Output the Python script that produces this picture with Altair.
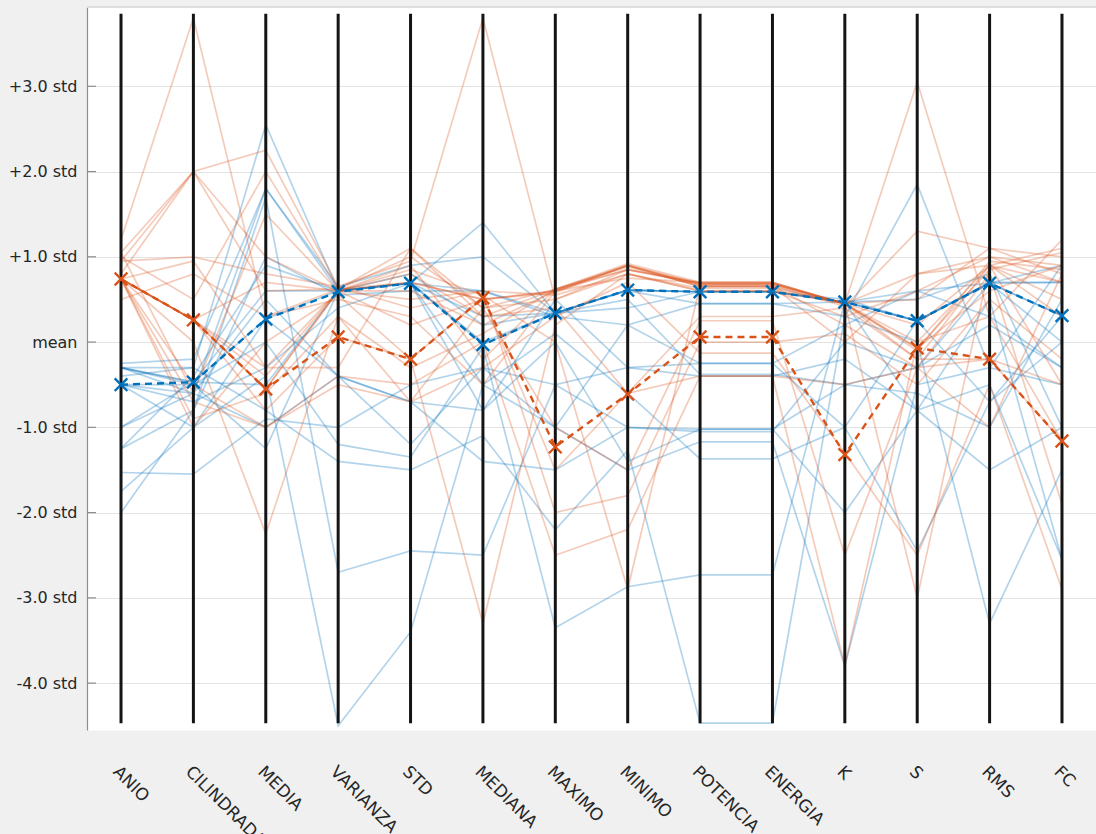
import altair as alt
import pandas as pd

AXES = ["ANIO", "CILINDRADA", "MEDIA", "VARIANZA", "STD", "MEDIANA", "MAXIMO",
        "MINIMO", "POTENCIA", "ENERGIA", "K", "S", "RMS", "FC"]

TICK_VALUES = [-4, -3, -2, -1, 0, 1, 2, 3]
TICK_LABELS = ["-4.0 std", "-3.0 std", "-2.0 std", "-1.0 std", "mean",
               "+1.0 std", "+2.0 std", "+3.0 std"]

Y_DOMAIN = [-4.55, 3.93]
AXIS_LINE_LO = -4.47
AXIS_LINE_HI = 3.85

# group "mean" polylines (dashed with x markers)
MEAN_BLUE = [-0.50, -0.47, 0.27, 0.59, 0.69, -0.03, 0.34, 0.61, 0.59, 0.59, 0.47, 0.25, 0.69, 0.31]
MEAN_ORANGE = [0.74, 0.26, -0.55, 0.06, -0.20, 0.52, -1.23, -0.61, 0.06, 0.06, -1.32, -0.07, -0.20, -1.16]

ORANGE_LINES = [
    [1.20, 3.80, 0.30, 0.62, 1.10, 0.40, 0.62, 0.92, 0.70, 0.70, 0.45, -0.10, 0.95, 0.85],
    [1.05, 2.00, 2.25, 0.65, 0.95, 3.80, 0.50, 0.85, 0.68, 0.68, 0.45, 3.05, 0.30, 1.20],
    [0.95, 2.00, 1.00, 0.60, 0.80, 0.30, 0.62, 0.88, 0.66, 0.66, 0.42, 1.30, 1.10, 1.00],
    [0.80, 2.00, 0.60, 0.62, 0.70, 0.50, 0.58, 0.90, 0.65, 0.65, 0.45, 0.80, 1.00, 0.90],
    [0.74, 0.95, -0.30, 0.60, 0.50, 0.60, 0.55, 0.80, 0.63, 0.63, 0.45, 0.00, 0.90, 0.70],
    [0.74, 0.26, -0.55, 0.60, 0.20, 0.50, 0.60, 0.75, 0.70, 0.70, 0.45, -0.07, 0.85, 1.05],
    [0.74, 0.26, -0.80, 0.06, -0.20, 0.52, -1.50, -0.60, 0.30, 0.30, 0.40, -0.20, -0.20, -0.50],
    [0.74, -0.50, -1.00, -0.40, -0.50, 0.00, -2.50, -2.20, -0.40, -0.40, -0.50, -0.30, 0.80, -1.90],
    [0.74, 0.00, -2.25, 0.30, -0.70, -0.30, 0.30, 0.70, -0.13, -0.13, -1.30, -2.50, -0.50, -2.90],
    [0.74, -1.00, 0.00, 0.55, -0.20, -3.30, 0.20, 0.80, 0.60, 0.60, 0.45, -3.00, 0.90, 0.50],
    [1.05, -0.60, 1.50, 0.60, 0.70, 0.50, 0.60, 0.90, 0.68, 0.68, 0.45, 0.50, 1.10, 0.80],
    [0.74, 0.26, -0.30, -0.30, 1.10, 0.30, 0.40, -0.60, -0.40, -0.40, -3.80, 0.00, 0.30, -1.16],
    [0.50, 0.80, 0.30, 0.50, 0.30, -0.50, 0.60, 0.90, 0.65, 0.65, 0.00, 0.80, 0.90, 1.10],
    [0.74, 0.26, -0.55, 0.60, 0.60, 0.20, 0.60, 0.85, 0.70, 0.70, 0.45, -0.07, 0.60, 0.90],
    [1.00, 0.50, 2.00, 0.62, 1.00, 0.40, 0.50, 0.80, 0.60, 0.60, 0.30, 0.60, 1.00, 0.70],
    [0.74, -0.90, -0.60, 0.30, -0.30, 0.10, 0.62, 0.90, 0.68, 0.68, 0.45, -0.20, 0.90, -0.50],
    [0.74, 0.26, -0.40, 0.60, 0.85, 0.55, 0.00, -2.90, 0.66, 0.66, 0.20, -0.30, -1.00, 0.80],
    [0.74, -0.70, -1.00, -0.50, -0.70, 0.40, -1.00, -1.50, 0.25, 0.25, -2.50, -0.30, -0.20, -1.16],
    [0.74, 0.26, 0.70, 0.60, 0.90, -0.20, 0.62, 0.85, 0.69, 0.69, 0.45, 0.20, 0.90, 0.30],
    [0.95, 1.00, 0.80, 0.65, 0.40, 0.60, -2.00, -1.80, 0.00, 0.00, 0.10, -0.50, 0.50, -0.20],
]

BLUE_LINES = [
    [-0.30, -0.30, 2.55, 0.60, 0.69, -0.03, 0.34, 0.61, 0.59, 0.59, 0.47, 0.25, 0.69, 0.31],
    [-0.50, -0.60, 1.80, 0.60, 0.69, 1.40, 0.34, 0.60, 0.45, 0.45, 0.30, 1.85, -0.30, 0.90],
    [-1.00, -0.47, 0.27, 0.60, 0.69, 0.00, 0.34, 0.40, 0.59, 0.59, 0.50, 0.25, 0.70, 0.70],
    [-1.25, -0.80, 1.00, 0.55, 0.60, 0.60, 0.30, 0.20, -0.25, -0.25, 0.20, 0.60, 0.69, 0.00],
    [-1.53, -1.55, -0.90, -1.00, -0.50, -0.30, -0.50, -1.00, -1.02, -1.02, -0.50, -0.30, 0.20, -0.30],
    [-1.75, -1.00, -0.40, -4.50, -3.40, -0.50, -1.00, -1.50, -1.17, -1.17, -3.80, -0.50, -0.30, -0.50],
    [-2.00, -0.80, 1.70, -2.70, -2.45, -2.50, -0.50, -0.30, -0.40, -0.40, -0.20, -0.80, -1.50, -1.00],
    [-0.30, -0.50, 0.00, -1.20, -1.35, -0.06, -3.35, -2.87, -2.73, -2.73, 0.47, -0.80, 0.50, -2.55],
    [-0.40, -0.30, -0.80, -1.40, -1.50, -1.10, -2.20, -1.27, -4.47, -4.47, 0.30, 0.00, -3.30, -1.50],
    [-0.50, -0.50, -1.25, 0.60, 0.69, -0.50, 0.10, -0.60, -1.37, -1.37, -1.00, 0.25, -0.70, 0.30],
    [-1.00, -0.60, 0.50, -0.40, -0.70, -1.40, -1.50, -1.00, -1.05, -1.05, 0.00, -0.30, 0.69, 0.90],
    [-0.25, -0.20, 1.80, 0.65, 0.90, 1.00, 0.34, 0.61, 0.59, 0.59, 0.47, 0.50, 0.80, -1.00],
    [-0.30, -0.47, -0.50, 0.60, 0.69, 0.30, 0.34, 0.50, -0.38, -0.38, -0.50, -0.60, -1.00, 0.50],
    [-0.50, -1.00, 0.27, -0.40, -1.20, -0.30, -1.00, 0.20, 0.45, 0.45, 0.47, 0.60, 0.30, -0.30],
    [-0.30, -0.47, 0.60, 0.60, 0.80, 0.20, 0.34, 0.61, 0.59, 0.59, 0.47, 0.25, 0.69, 0.70],
    [-0.50, -0.70, -0.30, 0.40, 0.69, -0.80, 0.00, -1.40, -1.02, -1.02, -2.00, -0.80, -0.50, -2.55],
    [-1.25, -0.40, 0.90, 0.60, 0.69, 0.60, 0.34, 0.61, 0.59, 0.59, 0.47, 0.25, 0.69, 0.31],
    [-0.30, -0.60, -1.00, -0.40, -0.70, -0.80, 0.50, -0.30, -0.25, -0.25, -1.00, -2.45, -0.70, 0.00],
]

GROUPS = ["blue", "orange"]
LINE_COLORS = ["#0072BD", "#D95319"]
MEAN_COLORS = ["#0a5fa0", "#D95319"]

W, H = 1009, 723

# ---- tables ----
rows = []
for g, lines in (("blue", BLUE_LINES), ("orange", ORANGE_LINES)):
    for i, vals in enumerate(lines):
        for a, v in zip(AXES, vals):
            rows.append({"id": f"{g}{i}", "group": g, "axis": a, "value": v})
lines_df = pd.DataFrame(rows)

mrows = []
for g, vals in (("blue", MEAN_BLUE), ("orange", MEAN_ORANGE)):
    for a, v in zip(AXES, vals):
        mrows.append({"group": g, "axis": a, "value": v})
mean_df = pd.DataFrame(mrows)

rules_df = pd.DataFrame({"axis": AXES, "lo": [AXIS_LINE_LO] * len(AXES), "hi": [AXIS_LINE_HI] * len(AXES)})
ticks_df = pd.DataFrame({"value": TICK_VALUES})

label_expr = "''"
for v, lab in zip(TICK_VALUES, TICK_LABELS):
    label_expr = f"datum.value == {v} ? '{lab}' : ({label_expr})"

xscale = alt.Scale(type="point", padding=0.47)
yscale = alt.Scale(domain=Y_DOMAIN, nice=False, zero=False)

xaxis = alt.Axis(domain=False, ticks=False, tickSize=0, grid=False, labelAngle=45,
                 labelAlign="left", labelBaseline="top", labelPadding=33,
                 labelFont="DejaVu Sans", labelFontSize=17, labelColor="#262626",
                 labelOverlap=False)
yaxis = alt.Axis(values=TICK_VALUES, labelExpr=label_expr, ticks=False, tickSize=0,
                 domain=True, domainColor="#8c8c8c", domainWidth=1.2,
                 grid=True, gridColor="#e3e3e3", gridWidth=1,
                 labelFont="DejaVu Sans", labelFontSize=16, labelColor="#262626",
                 labelPadding=10)


def X(field):
    return alt.X(field, type="ordinal", sort=AXES, scale=xscale, axis=xaxis, title=None)


def Y(field):
    return alt.Y(field, type="quantitative", scale=yscale, axis=yaxis, title=None)


color_lines = alt.Color("group:N", scale=alt.Scale(domain=GROUPS, range=LINE_COLORS), legend=None)
color_means = alt.Color("group:N", scale=alt.Scale(domain=GROUPS, range=MEAN_COLORS), legend=None)

inner_ticks = alt.Chart(ticks_df).mark_rule(color="#8c8c8c", strokeWidth=1.2).encode(
    y=Y("value"), x=alt.value(0), x2=alt.value(9)
)

top_line = alt.Chart(ticks_df).mark_rule(color="#dedede", strokeWidth=1).encode(
    y=alt.value(0), x=alt.value(0), x2=alt.value(W)
)

data_lines = alt.Chart(lines_df).mark_line(strokeWidth=1.7, opacity=0.3).encode(
    x=X("axis"), y=Y("value"), detail="id:N", color=color_lines
)

axis_rules = alt.Chart(rules_df).mark_rule(color="#141414", strokeWidth=3).encode(
    x=X("axis"), y=Y("lo"), y2="hi:Q"
)

mean_lines = alt.Chart(mean_df).mark_line(strokeWidth=2.4, strokeDash=[7, 5]).encode(
    x=X("axis"), y=Y("value"), detail="group:N", color=color_means
)

mean_pts = alt.Chart(mean_df).mark_point(
    shape="M-1,-1L1,1M-1,1L1,-1", filled=False, strokeWidth=2.4, size=160, opacity=1
).encode(x=X("axis"), y=Y("value"), color=color_means)

chart = alt.layer(
    data_lines, top_line, inner_ticks, axis_rules, mean_lines, mean_pts
).properties(
    width=W, height=H,
    autosize=alt.AutoSizeParams(type="none"),
    padding={"left": 87, "top": 7, "right": 0, "bottom": 104},
).configure(background="#f0f0f0").configure_view(fill="white", stroke="transparent")

chart.save("out.html", embed_options={"renderer": "svg", "actions": False})
